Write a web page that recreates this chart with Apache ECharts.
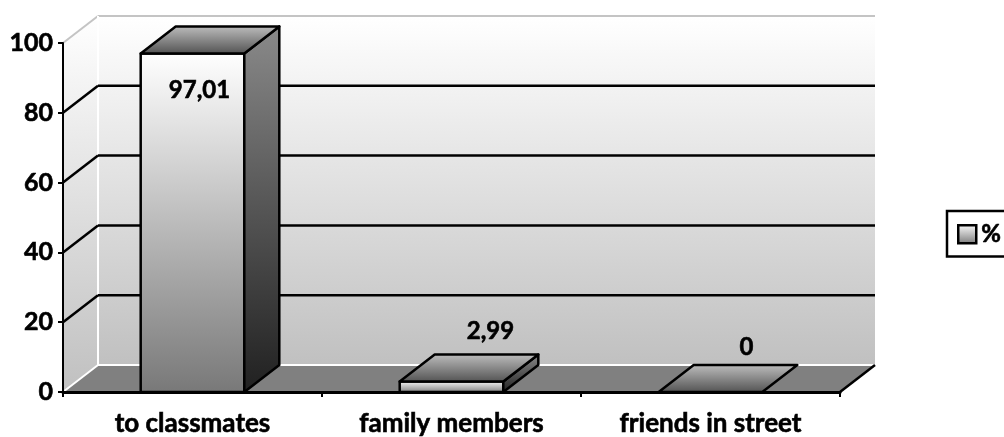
<!DOCTYPE html>
<html>
<head>
<meta charset="utf-8">
<style>html,body{margin:0;padding:0;background:#fff}#chart{width:1004px;height:437px}</style>
<script src="https://cdn.jsdelivr.net/npm/echarts@6/dist/echarts.min.js"></script>
</head>
<body>
<div id="chart"></div>
<script>
// Chart content
const categories = ['to classmates', 'family members', 'friends in street'];
const percentages = [97.01, 2.99, 0];
const valueTicks = [0, 20, 40, 60, 80, 100];

// Oblique projection and label placement for the pseudo-3D look
const DEPTH_X = 35;
const DEPTH_Y = -27;
const BAR_RATIO = 0.4;
const labelShift = [[7, 37], [39, -50], [36, -45]];
const FONT = 'Lato, "Open Sans", sans-serif';
const heavyText = { textBorderColor: '#000', textBorderWidth: 0.6 };

const vGrad = (top, bottom) => new echarts.graphic.LinearGradient(0, 0, 0, 1, [
  { offset: 0, color: top }, { offset: 1, color: bottom }
]);

function polygon(points, fill, z2) {
  return {
    type: 'polygon', z2: z2 || 0,
    shape: { points },
    style: { fill, stroke: '#000', lineWidth: 2.5, lineJoin: 'round' }
  };
}
function segment(x1, y1, x2, y2, stroke, lineWidth, z2) {
  return {
    type: 'line', z2: z2 || 1,
    shape: { x1, y1, x2, y2 },
    style: { stroke, lineWidth }
  };
}

// Back wall, side wall, floor and the gridlines that wrap around them
function renderWalls(params, api) {
  const c = params.coordSys;
  const yOf = v => api.coord([0, v])[1];
  const left = c.x, right = c.x + c.width;
  const top = yOf(100), base = yOf(0);
  const bLeft = left + DEPTH_X, bRight = right + DEPTH_X;
  const wallGrad = vGrad('#ffffff', '#c0c0c0');
  const children = [
    { type: 'rect', shape: { x: bLeft, y: top + DEPTH_Y, width: bRight - bLeft, height: base - top },
      style: { fill: wallGrad } },
    { type: 'polygon', shape: { points: [[left, top], [bLeft, top + DEPTH_Y], [bLeft, base + DEPTH_Y], [left, base]] },
      style: { fill: wallGrad } },
    { type: 'polygon', shape: { points: [[left, base], [bLeft, base + DEPTH_Y], [bRight, base + DEPTH_Y], [right, base]] },
      style: { fill: '#808080' } },
    segment(bLeft, top + DEPTH_Y, bRight, top + DEPTH_Y, '#c4c4c4', 2),
    segment(left, top, bLeft, top + DEPTH_Y, '#c4c4c4', 2),
    segment(bLeft, top + DEPTH_Y, bLeft, base + DEPTH_Y, '#ffffff', 2),
    segment(left, base, bLeft, base + DEPTH_Y, '#ffffff', 2),
    segment(bLeft, base + DEPTH_Y, bRight, base + DEPTH_Y, '#ffffff', 2),
    segment(right, base, bRight, base + DEPTH_Y, '#000000', 2.5, 2)
  ];
  valueTicks.filter(v => v > 0 && v < 100).forEach(v => {
    const y = yOf(v);
    children.push(segment(left, y, bLeft, y + DEPTH_Y, '#000000', 2.5, 2));
    children.push(segment(bLeft, y + DEPTH_Y, bRight, y + DEPTH_Y, '#000000', 2.5, 2));
  });
  return { type: 'group', children };
}

// One box per category: front, side and top faces plus the value text
function renderBar(params, api) {
  const i = api.value(0), v = api.value(1);
  const [cx, yTop] = api.coord([i, v]);
  const yBase = api.coord([i, 0])[1];
  const half = api.size([1, 0])[0] * BAR_RATIO / 2;
  const x0 = cx - half, x1 = cx + half;
  const dx = DEPTH_X, dy = DEPTH_Y;
  const children = [];
  if (yBase - yTop > 0.5) {
    children.push(polygon([[x0, yTop], [x1, yTop], [x1, yBase], [x0, yBase]], vGrad('#ffffff', '#787878')));
    children.push(polygon([[x1, yTop], [x1 + dx, yTop + dy], [x1 + dx, yBase + dy], [x1, yBase]], vGrad('#8a8a8a', '#202020')));
  }
  children.push(polygon([[x0, yTop], [x0 + dx, yTop + dy], [x1 + dx, yTop + dy], [x1, yTop]], vGrad('#c0c0c0', '#505050')));
  const shift = labelShift[params.dataIndex];
  children.push({
    type: 'text', z2: 5,
    style: {
      x: cx + shift[0], y: yTop + shift[1],
      text: String(v).replace('.', ','),
      align: 'center', verticalAlign: 'middle',
      fill: '#000', stroke: '#000', lineWidth: 0.6, font: 'bold 24px ' + FONT
    }
  });
  return { type: 'group', children };
}

const swatch = vGrad('#ffffff', '#787878');
const chart = echarts.init(document.getElementById('chart'), null, { renderer: 'canvas' });
chart.setOption({
  animation: false,
  backgroundColor: '#ffffff',
  grid: { left: 63, right: 164, top: 43, bottom: 45, outerBoundsMode: 'none' },
  legend: {
    left: 947, top: 211,
    orient: 'vertical',
    padding: [11, 12, 10, 10],
    borderColor: '#000', borderWidth: 2.5, borderRadius: 0,
    itemWidth: 18, itemHeight: 18, itemGap: 0,
    selectedMode: false,
    textStyle: { fontFamily: FONT, fontWeight: 'bold', fontSize: 24, color: '#000', ...heavyText },
    data: [{
      name: '%', icon: 'rect',
      itemStyle: { color: swatch, borderColor: '#000', borderWidth: 2.5 }
    }]
  },
  xAxis: {
    type: 'category', data: categories, z: 6,
    axisLine: { lineStyle: { color: '#000', width: 3 } },
    axisTick: { show: true, length: 5, alignWithLabel: false, lineStyle: { color: '#000', width: 2 } },
    axisLabel: { color: '#000', fontFamily: FONT, fontWeight: 'bold', fontSize: 26, margin: 19, interval: 0, ...heavyText }
  },
  yAxis: {
    type: 'value', min: 0, max: 100, interval: 20, z: 6,
    axisLine: { show: true, lineStyle: { color: '#000', width: 2 } },
    axisTick: { show: true, length: 5, lineStyle: { color: '#000', width: 2 } },
    axisLabel: { color: '#000', fontFamily: FONT, fontWeight: 'bold', fontSize: 25, margin: 10, ...heavyText },
    splitLine: { show: false }
  },
  series: [
    { type: 'custom', name: 'walls', z: 1, silent: true, renderItem: renderWalls,
      data: [[0, 0]], clip: false, encode: { x: 0, y: 1 } },
    { type: 'custom', name: '%', z: 2, renderItem: renderBar, clip: false,
      itemStyle: { color: swatch },
      data: percentages.map((p, i) => [i, p]), encode: { x: 0, y: 1 } }
  ]
});
</script>
</body>
</html>
